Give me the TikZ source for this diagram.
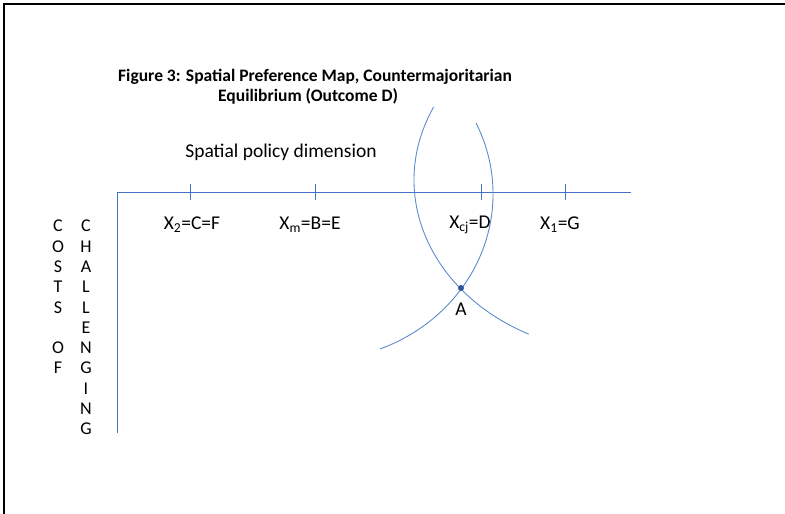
\documentclass[tikz,border=0pt]{standalone}
\usepackage{fontspec}
\setmainfont{Carlito}
\usetikzlibrary{positioning}
\definecolor{axisblue}{HTML}{4472C4}
\definecolor{curveblue}{HTML}{5B8CCB}
\definecolor{dotblue}{HTML}{2F5597}
\tikzset{
  frameline/.style={draw=black,line width=2pt},
  axis/.style={draw=axisblue,line width=1pt},
  tickmark/.style={draw=axisblue,line width=1pt},
  indiff/.style={draw=curveblue,line width=0.9pt},
  txt/.style={font=\fontsize{19.5}{23}\selectfont,inner sep=0pt},
  heading/.style={font=\fontsize{17.5}{21}\selectfont\bfseries,inner sep=0pt,anchor=west},
  column/.style={font=\fontsize{18}{20.3}\selectfont,inner sep=0pt,align=center,anchor=north}
}

\begin{document}
\begin{tikzpicture}[x=1pt,y=1pt]
  \useasboundingbox (0,0) rectangle (785,514);
  \draw[frameline] (4,0) -- (4,510) -- (785,510);

  \node[heading] (title1) at (118,437) {Figure 3: Spatial Preference Map, Countermajoritarian};
  \node[heading] (title2) at (218,418) {Equilibrium (Outcome D)};
  \node[txt] (dim) at (281,362) {Spatial policy dimension};

  % axes
  \coordinate (origin) at (117,321);
  \coordinate (xend) at (631,321);
  \coordinate (yend) at (117,81);
  \draw[axis] (xend) -- (origin) -- (yend);

  \foreach \name/\x in {two/190,med/315,cj/481,one/565}{
    \coordinate (tick-\name) at (\x,321);
    \draw[tickmark] ([yshift=9pt]tick-\name) -- ([yshift=-7pt]tick-\name);
  }

  \node[txt] (lbl-two) at (192,289) {X\textsubscript{2}=C=F};
  \node[txt] (lbl-med) at (310,289) {X\textsubscript{m}=B=E};
  \node[txt] (lbl-cj) at (470,289) {X\textsubscript{cj}=D};
  \node[txt] (lbl-one) at (560,289) {X\textsubscript{1}=G};

  % y-axis title
  \node[column] (costs) at (58,294) {C\\O\\S\\T\\S\\~\\O\\F};
  \node[column] (challenging) at (86,294) {C\\H\\A\\L\\L\\E\\N\\G\hspace*{11pt}\\I\\N\\G};

  % indifference arcs
  \coordinate (A) at (461,226);
  \draw[indiff] (433.7,407.1) arc[start angle=155,end angle=243,x radius=210pt,y radius=173pt];
  \draw[indiff] (476.1,390.9) arc[start angle=25.2,end angle=-68.6,x radius=178pt,y radius=166.5pt];
  \fill[dotblue] (A) circle (3pt);
  \node[txt,below=15pt of A] (lblA) {A};
\end{tikzpicture}
\end{document}
